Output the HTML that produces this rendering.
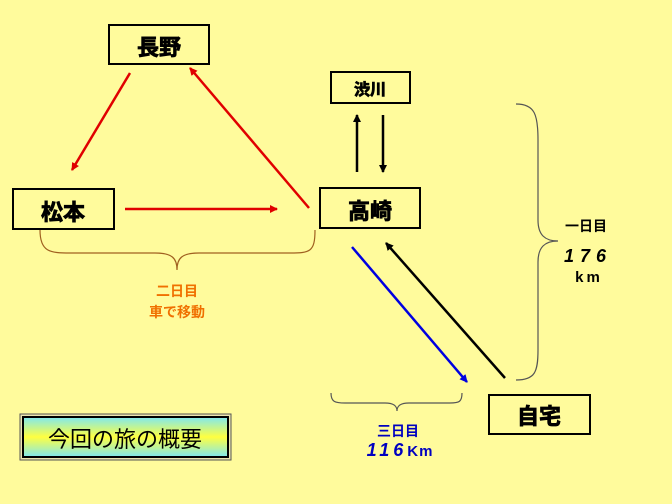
<!DOCTYPE html>
<html><head><meta charset="utf-8"><style>
html,body{margin:0;padding:0;background:#FFFB9C;}
svg{display:block}
text{font-family:"Liberation Sans","Noto Sans CJK JP",sans-serif;font-weight:bold;text-anchor:middle}
.h{stroke:#000;stroke-width:0.8}
</style></head><body>
<svg width="672" height="504" viewBox="0 0 672 504" xmlns="http://www.w3.org/2000/svg">
<defs>
<marker id="ar" markerWidth="8" markerHeight="8" refX="7" refY="4" orient="auto" markerUnits="userSpaceOnUse"><path d="M0,0 L8,4 L0,8 Z" fill="#E00000"/></marker>
<marker id="ak" markerWidth="8" markerHeight="8" refX="7" refY="4" orient="auto" markerUnits="userSpaceOnUse"><path d="M0,0 L8,4 L0,8 Z" fill="#000"/></marker>
<marker id="ab" markerWidth="8" markerHeight="8" refX="7" refY="4" orient="auto" markerUnits="userSpaceOnUse"><path d="M0,0 L8,4 L0,8 Z" fill="#0000E0"/></marker>
<linearGradient id="g" x1="0" y1="0" x2="0" y2="1"><stop offset="0" stop-color="#7FE8F0"/><stop offset="0.5" stop-color="#FFFF40"/><stop offset="1" stop-color="#7FE8F0"/></linearGradient>
</defs>
<g fill="#FFFB9C" stroke="#000" stroke-width="2">
<rect x="109" y="25" width="100" height="39"/>
<rect x="13" y="189" width="101" height="40"/>
<rect x="320" y="188" width="100" height="40"/>
<rect x="331" y="72" width="79" height="31"/>
<rect x="489" y="395" width="101" height="39"/>
</g>
<rect x="20" y="414" width="211" height="46" fill="#EDE6B0" stroke="#555" stroke-width="1"/>
<rect x="23" y="417" width="205" height="40" fill="url(#g)" stroke="#000" stroke-width="2"/>
<text class="h" x="159" y="55" font-size="22">長野</text>
<text class="h" x="63" y="220" font-size="22">松本</text>
<text class="h" x="370" y="219" font-size="22">高崎</text>
<text class="h" x="370" y="95" font-size="16">渋川</text>
<text class="h" x="539" y="424" font-size="22">自宅</text>
<text x="125" y="447" font-size="22" style="font-weight:normal">今回の旅の概要</text>
<g stroke-width="2.5" fill="none">
<line x1="130" y1="73" x2="72" y2="170" stroke="#E00000" marker-end="url(#ar)"/>
<line x1="125" y1="209" x2="277" y2="209" stroke="#E00000" marker-end="url(#ar)"/>
<line x1="309" y1="208" x2="190" y2="68" stroke="#E00000" marker-end="url(#ar)"/>
<line x1="357" y1="172" x2="357" y2="115" stroke="#000" marker-end="url(#ak)"/>
<line x1="383" y1="115" x2="383" y2="172" stroke="#000" marker-end="url(#ak)"/>
<line x1="352" y1="247" x2="467" y2="382" stroke="#0000E0" marker-end="url(#ab)"/>
<line x1="505" y1="378" x2="386" y2="243" stroke="#000" marker-end="url(#ak)"/>
</g>
<g fill="none" stroke-width="1.2">
<path d="M40,230 C40,252 50,253 70,253 L155,253 C172,253 177,258 177,270 C177,258 182,253 199,253 L290,253 C310,253 315,252 315,230" stroke="#A06020"/>
<path d="M516,104 C535,104 538,115 538,140 L538,220 C538,235 545,241 558,241 C545,241 538,247 538,262 L538,350 C538,372 535,380 516,380" stroke="#555"/>
<path d="M331,393 C331,402 335,403 345,403 L385,403 C394,403 397,406 397,411 C397,406 400,403 409,403 L450,403 C459,403 462,402 462,393" stroke="#555"/>
</g>
<text x="177" y="296" font-size="14" fill="#F07000">二日目</text>
<text x="177" y="317" font-size="14" fill="#F07000">車で移動</text>
<text x="586" y="231" font-size="14">一日目</text>
<text x="588" y="262" font-size="18" font-style="italic" letter-spacing="6">176</text>
<text x="589" y="282" font-size="15" letter-spacing="3">km</text>
<text x="398" y="436" font-size="14" fill="#0000C0">三日目</text>
<text x="400" y="456" font-size="18" fill="#0000C0" font-style="italic" letter-spacing="4">116<tspan font-style="normal" font-size="15" letter-spacing="1">Km</tspan></text>
</svg>
</body></html>
